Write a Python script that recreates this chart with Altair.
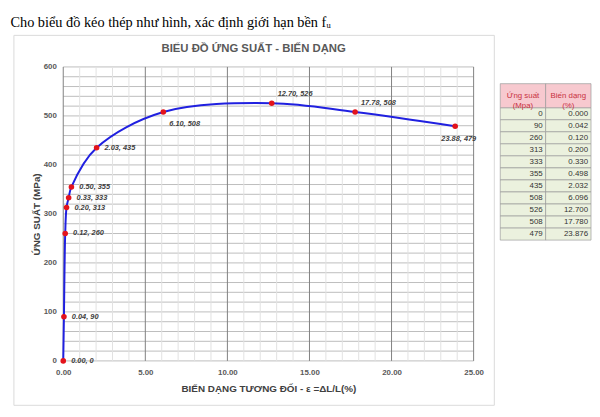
import altair as alt
import pandas as pd

heading = "Cho biểu đồ kéo thép như hình, xác định giới hạn bền fᵤ"
chart_title = "BIỂU ĐỒ ỨNG SUẤT - BIẾN DẠNG"
x_title = "BIẾN DẠNG TƯƠNG ĐỐI - ε =ΔL/L(%)"
y_title = "ỨNG SUẤT (MPa)"

stress = [0, 90, 260, 313, 333, 355, 435, 508, 526, 508, 479]
strain = [0.000, 0.042, 0.120, 0.200, 0.330, 0.498, 2.032, 6.096, 12.700, 17.780, 23.876]

x_major = [0, 5, 10, 15, 20, 25]
x_minor = list(range(0, 26))
y_major = [0, 100, 200, 300, 400, 500, 600]
y_minor = list(range(0, 601, 20))

table_cols = ["A", "B"]
table_headers = ["Ứng suất\n(Mpa)", "Biến dạng\n(%)"]

FONT = "Liberation Sans"

df = pd.DataFrame({"e": strain, "s": stress})

xs = alt.Scale(domain=[0, 25], nice=False)
ys = alt.Scale(domain=[0, 600], nice=False)

x_axis = alt.Axis(
    values=x_major, grid=False, ticks=False, domain=False, format=".2f",
    labelFlush=False, labelOverlap=False, labelFont=FONT, labelFontSize=8,
    labelFontWeight="bold", labelColor="#595959", labelPadding=8,
    title=x_title, titleFont=FONT, titleFontSize=10, titleFontWeight="bold",
    titleColor="#404040", titlePadding=7,
)
y_axis = alt.Axis(
    values=y_major, grid=False, ticks=False, domain=False, format="d",
    labelOverlap=False, labelFont=FONT, labelFontSize=8,
    labelFontWeight="bold", labelColor="#595959", labelPadding=7,
    title=y_title, titleFont=FONT, titleFontSize=10, titleFontWeight="bold",
    titleColor="#404040", titlePadding=2,
)

box = alt.Chart(pd.DataFrame({"k": [0]})).mark_rect(
    filled=False, stroke="#d9d9d9", strokeWidth=1
).encode(x=alt.value(-50), x2=alt.value(437), y=alt.value(-32), y2=alt.value(343))

title_mark = alt.Chart(pd.DataFrame({"t": [chart_title]})).mark_text(
    align="center", baseline="middle", font=FONT, fontSize=11.5,
    fontWeight="bold", color="#595959"
).encode(text="t:N", x=alt.value(193), y=alt.value(-18))

# grid lines drawn from the tick lists
vgrid = alt.Chart(pd.DataFrame({"v": x_minor})).transform_calculate(
    c="datum.v % 5 === 0 ? '#808080' : '#e2e2e2'",
    o="datum.v % 5 === 0 ? 1 : 0"
).mark_rule(strokeWidth=1).encode(
    x=alt.X("v:Q", scale=xs, axis=x_axis),
    color=alt.Color("c:N", scale=None),
    order=alt.Order("o:Q"),
)
hgrid = alt.Chart(pd.DataFrame({"v": y_minor})).mark_rule(
    strokeWidth=1, color="#bdbdbd"
).encode(y=alt.Y("v:Q", scale=ys, axis=y_axis))

line = alt.Chart(df).mark_line(color="#2020e0", strokeWidth=2, interpolate="catmull-rom").encode(
    x=alt.X("e:Q", scale=xs, axis=x_axis), y=alt.Y("s:Q", scale=ys, axis=y_axis))
points = alt.Chart(df).mark_circle(size=32, color="#e3131b", opacity=1).encode(
    x=alt.X("e:Q", scale=xs, axis=x_axis), y=alt.Y("s:Q", scale=ys, axis=y_axis))

lab_base = alt.Chart(df).transform_calculate(lab="format(datum.e, '.2f') + ', ' + datum.s")
lab_style = dict(baseline="middle", font=FONT, fontSize=7.5, fontStyle="italic",
                 fontWeight="bold", color="#404040")
lab_xy = dict(x=alt.X("e:Q", scale=xs, axis=x_axis), y=alt.Y("s:Q", scale=ys, axis=y_axis), text="lab:N")
labA = lab_base.transform_filter("datum.e < 3").mark_text(align="left", dx=8, **lab_style).encode(**lab_xy)
labB = lab_base.transform_filter("datum.e > 3 && datum.e < 10").mark_text(
    align="left", dx=6, dy=12, **lab_style).encode(**lab_xy)
labC = lab_base.transform_filter("datum.e > 10 && datum.e < 20").mark_text(
    align="left", dx=6, dy=-9, **lab_style).encode(**lab_xy)
labD = lab_base.transform_filter("datum.e > 20").mark_text(
    align="left", dx=-14, dy=13, **lab_style).encode(**lab_xy)

main = alt.layer(box, title_mark, hgrid, vgrid, line, points, labA, labB, labC, labD).properties(
    width=416, height=298)

# ---- table ----
cells = []
for i, (s, e) in enumerate(zip(stress, strain)):
    cells.append({"r": i, "col": table_cols[0], "txt": str(s)})
    cells.append({"r": i, "col": table_cols[1], "txt": f"{e:.3f}"})
cells_df = pd.DataFrame(cells)
hdr_df = pd.DataFrame({"col": table_cols, "txt": table_headers})

tx = alt.Scale(domain=table_cols, paddingInner=0, paddingOuter=0)
ty = alt.Scale(domain=[-3.39, 21.04], reverse=True, nice=False, zero=False)

cell_rect = alt.Chart(cells_df).transform_calculate(r2="datum.r + 1").mark_rect(
    fill="#ebf1de", stroke="#9a9a9a", strokeWidth=0.7
).encode(x=alt.X("col:N", scale=tx, axis=None), y=alt.Y("r:Q", scale=ty, axis=None), y2="r2:Q")

cell_text = alt.Chart(cells_df).transform_calculate(rm="datum.r + 0.5").mark_text(
    align="right", baseline="middle", dx=-3, font=FONT, fontSize=8, color="#333333"
).encode(x=alt.X("col:N", scale=tx, axis=None, bandPosition=1),
         y=alt.Y("rm:Q", scale=ty, axis=None), text="txt:N")

hdr_rect = alt.Chart(hdr_df).transform_calculate(r="-2", r2="0").mark_rect(
    fill="#f7c9cf", stroke="#9a9a9a", strokeWidth=0.7
).encode(x=alt.X("col:N", scale=tx, axis=None), y=alt.Y("r:Q", scale=ty, axis=None), y2="r2:Q")

hdr_text = alt.Chart(hdr_df).transform_calculate(rm="-1").mark_text(
    align="center", baseline="middle", font=FONT, fontSize=8, color="#c8323f", lineBreak="\n"
).encode(x=alt.X("col:N", scale=tx, axis=None, bandPosition=0.5),
         y=alt.Y("rm:Q", scale=ty, axis=None), text="txt:N")

table = alt.layer(cell_rect, hdr_rect, cell_text, hdr_text).properties(width=92, height=298)

chart = alt.hconcat(main, table, spacing=4).properties(
    title=alt.TitleParams(text=heading, anchor="start", font="Liberation Serif", fontSize=14.5,
                          fontWeight="normal", color="black", dx=-3, offset=4)
).configure(
    padding={"left": 2, "top": 5, "right": 0, "bottom": 0}, background="white"
).configure_view(stroke=None)

chart.save("out.html", embed_options={"renderer": "svg", "actions": False})
